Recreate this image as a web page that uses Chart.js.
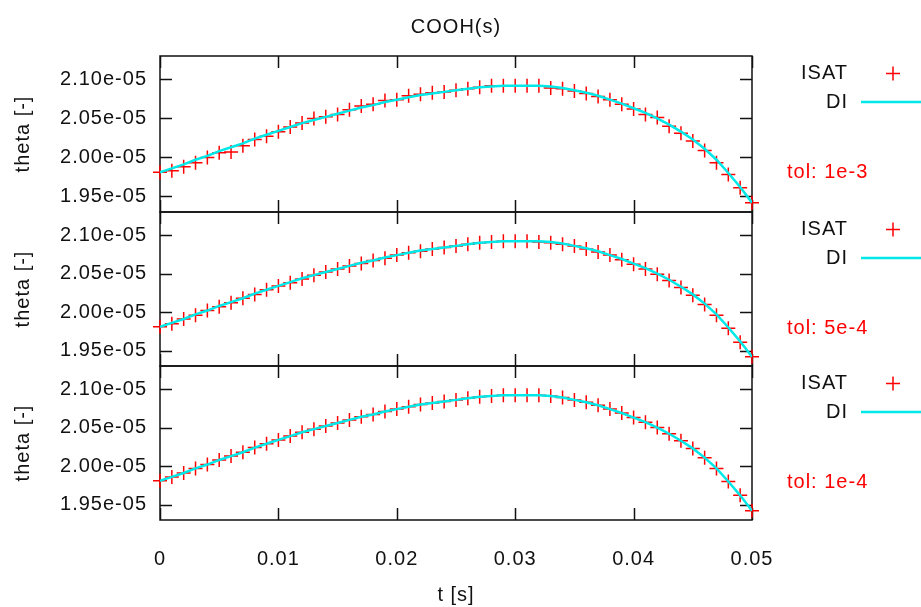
<!DOCTYPE html>
<html lang="en">
<head>
<meta charset="UTF-8">
<title>COOH(s)</title>
<script src="https://cdn.jsdelivr.net/npm/chart.js@4.4.0/dist/chart.umd.min.js"></script>
<style>
  body { margin: 0; background: #fff; }
  #wrap { position: relative; width: 921px; height: 607px; }
  #wrap canvas { position: absolute; left: 0; top: 0; }
</style>
</head>
<body>
<div id="wrap">
  <canvas id="c1" width="921" height="607"></canvas>
  <canvas id="c2" width="921" height="607"></canvas>
  <canvas id="c3" width="921" height="607"></canvas>
</div>
<script>
const SCALE = 1e-5;

const t = [0, 0.001, 0.002, 0.003, 0.004, 0.005, 0.006, 0.007, 0.008, 0.009,
  0.010, 0.011, 0.012, 0.013, 0.014, 0.015, 0.016, 0.017, 0.018, 0.019,
  0.020, 0.021, 0.022, 0.023, 0.024, 0.025, 0.026, 0.027, 0.028, 0.029,
  0.030, 0.031, 0.032, 0.033, 0.034, 0.035, 0.036, 0.037, 0.038, 0.039,
  0.040, 0.041, 0.042, 0.043, 0.044, 0.045, 0.046, 0.047, 0.048, 0.049, 0.050];

// reference solution (DI), same in all three panels
const di = [1.981, 1.986, 1.991, 1.997, 2.002, 2.008, 2.013, 2.018, 2.024, 2.029,
  2.034, 2.039, 2.044, 2.048, 2.052, 2.056, 2.060, 2.064, 2.067, 2.071,
  2.074, 2.077, 2.080, 2.082, 2.084, 2.086, 2.088, 2.090, 2.091, 2.092,
  2.092, 2.092, 2.092, 2.091, 2.089, 2.086, 2.083, 2.079, 2.074, 2.069,
  2.063, 2.057, 2.050, 2.042, 2.033, 2.023, 2.011, 1.997, 1.980, 1.962, 1.942];

// ISAT, tol 1e-3
const isat1 = [1.981, 1.983, 1.988, 1.993, 2.000, 2.006, 2.007, 2.015, 2.023, 2.027,
  2.033, 2.039, 2.044, 2.050, 2.052, 2.055, 2.061, 2.066, 2.068, 2.073,
  2.074, 2.079, 2.081, 2.083, 2.084, 2.086, 2.088, 2.090, 2.092, 2.092,
  2.092, 2.092, 2.092, 2.089, 2.088, 2.085, 2.082, 2.078, 2.074, 2.068,
  2.062, 2.055, 2.051, 2.040, 2.031, 2.021, 2.009, 1.993, 1.978, 1.961, 1.942];

// ISAT, tol 5e-4
const isat2 = [1.981, 1.985, 1.991, 1.996, 2.002, 2.007, 2.012, 2.018, 2.023, 2.029,
  2.034, 2.038, 2.043, 2.048, 2.052, 2.056, 2.060, 2.063, 2.067, 2.070,
  2.074, 2.077, 2.079, 2.082, 2.084, 2.086, 2.088, 2.090, 2.091, 2.092,
  2.092, 2.092, 2.091, 2.090, 2.088, 2.086, 2.082, 2.078, 2.074, 2.068,
  2.062, 2.056, 2.049, 2.041, 2.032, 2.022, 2.010, 1.996, 1.979, 1.961, 1.942];

// ISAT, tol 1e-4
const isat3 = [1.981, 1.986, 1.991, 1.997, 2.002, 2.008, 2.013, 2.018, 2.024, 2.029,
  2.034, 2.039, 2.044, 2.048, 2.052, 2.056, 2.060, 2.064, 2.067, 2.071,
  2.074, 2.077, 2.080, 2.082, 2.084, 2.086, 2.088, 2.090, 2.091, 2.092,
  2.092, 2.092, 2.092, 2.091, 2.089, 2.086, 2.083, 2.079, 2.074, 2.069,
  2.063, 2.057, 2.050, 2.042, 2.033, 2.023, 2.011, 1.997, 1.980, 1.962, 1.942];

const xTicks = [0, 0.01, 0.02, 0.03, 0.04, 0.05];
const xTickLabels = ['0', '0.01', '0.02', '0.03', '0.04', '0.05'];
const yTicks = [1.95, 2.00, 2.05, 2.10];
const yTickLabels = ['1.95e-05', '2.00e-05', '2.05e-05', '2.10e-05'];
const yMin = 1.93, yMax = 2.13;

const TEXT = '#111';
const FONT = "'Liberation Sans', Arial, sans-serif";
Chart.defaults.font.family = FONT;
Chart.defaults.font.size = 20;
Chart.defaults.color = TEXT;

// border, inward ticks and the key on the right (gnuplot style)
const framePlugin = {
  id: 'frame',
  beforeDraw(chart) {
    chart.ctx.letterSpacing = '1px';
  },
  beforeDatasetsDraw(chart) {
    const {ctx, chartArea: a, scales: {x, y}} = chart;
    const T = 12;
    ctx.save();
    ctx.strokeStyle = '#111';
    ctx.lineWidth = 1.5;
    ctx.beginPath();
    ctx.rect(a.left, a.top, a.right - a.left, a.bottom - a.top);
    yTicks.forEach(v => {
      const py = Math.round(y.getPixelForValue(v * SCALE)) + 0.5;
      ctx.moveTo(a.left, py); ctx.lineTo(a.left + T, py);
      ctx.moveTo(a.right, py); ctx.lineTo(a.right - T, py);
    });
    xTicks.forEach(v => {
      const px = Math.round(x.getPixelForValue(v)) + 0.5;
      ctx.moveTo(px, a.top); ctx.lineTo(px, a.top + T);
      ctx.moveTo(px, a.bottom); ctx.lineTo(px, a.bottom - T);
    });
    ctx.stroke();
    ctx.restore();
  },
  afterDraw(chart, args, opts) {
    const {ctx, chartArea: a} = chart;
    ctx.save();
    ctx.letterSpacing = '1px';
    ctx.font = '20px ' + FONT;
    ctx.textBaseline = 'middle';
    ctx.fillStyle = TEXT;
    ctx.textAlign = 'right';
    ctx.fillText('ISAT', 848, a.top + 17);
    ctx.fillText('DI', 848, a.top + 46);
    ctx.strokeStyle = 'red';
    ctx.lineWidth = 1.5;
    ctx.beginPath();
    ctx.moveTo(886, a.top + 17.5); ctx.lineTo(900, a.top + 17.5);
    ctx.moveTo(893, a.top + 10.5); ctx.lineTo(893, a.top + 24.5);
    ctx.stroke();
    ctx.strokeStyle = '#00e8e8';
    ctx.lineWidth = 2.5;
    ctx.beginPath();
    ctx.moveTo(861, a.top + 46); ctx.lineTo(921, a.top + 46);
    ctx.stroke();
    ctx.textAlign = 'left';
    ctx.fillStyle = 'red';
    ctx.fillText(opts.tol, 787, a.top + 116);
    if (opts.title) {
      ctx.fillStyle = TEXT;
      ctx.textAlign = 'center';
      ctx.fillText(opts.title, (a.left + a.right) / 2, 27);
    }
    ctx.restore();
  }
};

function makeChart(id, isat, tol, top, bottom, showX, title) {
  return new Chart(document.getElementById(id), {
    type: 'line',
    data: {
      datasets: [
        {
          label: 'DI',
          data: t.map((v, i) => ({x: v, y: di[i] * SCALE})),
          borderColor: '#00e8e8',
          borderWidth: 2.5,
          pointRadius: 0,
          tension: 0,
          order: 0
        },
        {
          label: 'ISAT',
          data: t.map((v, i) => ({x: v, y: isat[i] * SCALE})),
          showLine: false,
          pointStyle: 'cross',
          pointRadius: 7,
          pointBorderColor: 'red',
          pointBorderWidth: 1.5,
          borderColor: 'red',
          clip: false,
          order: 1
        }
      ]
    },
    options: {
      responsive: false,
      animation: false,
      events: [],
      layout: { padding: { left: 0, right: 169, top: top, bottom: showX ? 0 : 607 - bottom } },
      plugins: {
        legend: { display: false },
        title: { display: false },
        tooltip: { enabled: false },
        frame: { tol: tol, title: title }
      },
      scales: {
        x: {
          type: 'linear',
          min: 0,
          max: 0.05,
          display: showX,
          grid: { display: false },
          border: { display: false },
          afterBuildTicks: s => { s.ticks = xTicks.map(v => ({value: v})); },
          afterFit: s => { s.height = showX ? 87 : 0; },
          ticks: {
            autoSkip: false,
            maxRotation: 0,
            padding: 19,
            callback: (v, i) => xTickLabels[i]
          },
          title: { display: true, text: 't [s]', padding: { top: 0, bottom: 0 } }
        },
        y: {
          type: 'linear',
          min: yMin * SCALE,
          max: yMax * SCALE,
          grid: { display: false, drawTicks: false },
          border: { display: false },
          afterBuildTicks: s => { s.ticks = yTicks.map(v => ({value: v * SCALE})); },
          afterFit: s => { s.width = 160; },
          ticks: {
            autoSkip: false,
            padding: 13,
            callback: (v, i) => yTickLabels[i]
          },
          title: { display: true, text: 'theta [-]', padding: { top: 11, bottom: 0 } }
        }
      }
    },
    plugins: [framePlugin]
  });
}

makeChart('c1', isat1, 'tol: 1e-3', 56, 212, false, 'COOH(s)');
makeChart('c2', isat2, 'tol: 5e-4', 212, 366, false, null);
makeChart('c3', isat3, 'tol: 1e-4', 366, 520, true, null);
</script>
</body>
</html>
